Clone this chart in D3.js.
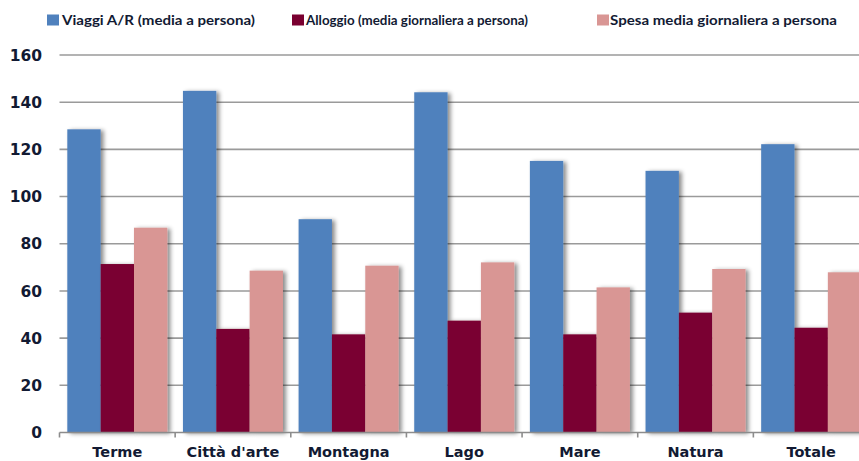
<!DOCTYPE html>
<html>
<head>
<meta charset="utf-8">
<script src="https://cdn.jsdelivr.net/npm/d3@7"></script>
<style>
  html, body { margin: 0; padding: 0; background: #fff; }
  svg { display: block; }
</style>
</head>
<body>
<div id="chart"></div>
<script>
// Spesa media per tipologia di vacanza (euro)
const categories = ["Terme", "Città d'arte", "Montagna", "Lago", "Mare", "Natura", "Totale"];
const seriesNames = [
  "Viaggi A/R (media a persona)",
  "Alloggio (media giornaliera a persona)",
  "Spesa media giornaliera a persona"
];
const viaggi   = [128.5, 144.8, 90.4, 144.2, 115.1, 110.9, 122.2];
const alloggio = [71.4, 43.9, 41.6, 47.4, 41.6, 50.8, 44.4];
const spesa    = [86.8, 68.6, 70.7, 72.1, 61.5, 69.3, 67.9];
const yTicks   = [0, 20, 40, 60, 80, 100, 120, 140, 160];

const colors = ["#4F81BD", "#7A0030", "#D99694"];
const series = [viaggi, alloggio, spesa];

const W = 859, H = 461;
const margin = { left: 59.5, right: -10, top: 55, bottom: 28.5 };
const textColor = "#121a33";
const axisFont = "'DejaVu Sans', Verdana, sans-serif";

const svg = d3.select("#chart").append("svg")
  .attr("width", W).attr("height", H)
  .style("font-family", "Lato, 'Open Sans', sans-serif");

// soft drop shadow to the lower right of each bar
const defs = svg.append("defs");
const f = defs.append("filter").attr("id", "shadow")
  .attr("x", "-20%").attr("y", "-5%").attr("width", "150%").attr("height", "110%");
f.append("feDropShadow")
  .attr("dx", 3).attr("dy", 1).attr("stdDeviation", 2)
  .attr("flood-color", "#000").attr("flood-opacity", 0.45);

const x0 = d3.scaleBand()
  .domain(categories)
  .range([margin.left, W - margin.right])
  .paddingInner(0.135).paddingOuter(0.0675);

const x1 = d3.scaleBand()
  .domain(d3.range(series.length))
  .range([0, x0.bandwidth()]);

const y = d3.scaleLinear()
  .domain([0, 160])
  .range([H - margin.bottom, margin.top]);

// horizontal gridlines
svg.append("g")
  .selectAll("line")
  .data(yTicks.filter(d => d > 0))
  .join("line")
  .attr("x1", margin.left).attr("x2", W)
  .attr("y1", d => y(d)).attr("y2", d => y(d))
  .attr("stroke", "#9a9a9a").attr("stroke-width", 1.6);

// y tick labels
svg.append("g")
  .selectAll("text")
  .data(yTicks)
  .join("text")
  .attr("x", 42).attr("y", d => y(d))
  .attr("dy", "0.36em")
  .attr("text-anchor", "end")
  .style("font-family", axisFont)
  .attr("font-size", 15.5).attr("font-weight", 700)
  .attr("fill", textColor)
  .text(d => d);

// bars
const groups = svg.append("g")
  .selectAll("g")
  .data(categories)
  .join("g")
  .attr("transform", d => `translate(${x0(d)},0)`);

groups.selectAll("rect")
  .data((c, i) => series.map((s, k) => ({ k, v: s[i] })))
  .join("rect")
  .attr("x", d => x1(d.k))
  .attr("width", x1.bandwidth())
  .attr("y", d => y(d.v))
  .attr("height", d => y(0) - y(d.v))
  .attr("fill", d => colors[d.k])
  .attr("filter", "url(#shadow)");

// category axis with boundary ticks
const step = x0.step();
const bounds = d3.range(categories.length + 1).map(i => margin.left + i * step);
const base = y(0);
svg.append("line")
  .attr("x1", margin.left).attr("x2", W)
  .attr("y1", base).attr("y2", base)
  .attr("stroke", "#8c8c8c").attr("stroke-width", 1.6);
svg.append("g")
  .selectAll("line")
  .data(bounds)
  .join("line")
  .attr("x1", d => d).attr("x2", d => d)
  .attr("y1", base).attr("y2", base + 5)
  .attr("stroke", "#8c8c8c").attr("stroke-width", 1.6);

svg.append("g")
  .selectAll("text")
  .data(categories)
  .join("text")
  .attr("x", d => x0(d) + x0.bandwidth() / 2)
  .attr("y", H - 4.5)
  .attr("text-anchor", "middle")
  .style("font-family", axisFont)
  .attr("font-size", 14.5).attr("font-weight", 700)
  .attr("fill", textColor)
  .text(d => d);

// legend
const legendItems = [
  { x: 47, tx: 62, w: 193 },
  { x: 292, tx: 306, w: 222 },
  { x: 597, tx: 610, w: 227 }
];
const lg = svg.append("g");
seriesNames.forEach((name, i) => {
  const it = legendItems[i];
  lg.append("rect")
    .attr("x", it.x).attr("y", 14.5).attr("width", 12).attr("height", 11)
    .attr("fill", colors[i]);
  lg.append("text")
    .attr("x", it.tx).attr("y", 24.5)
    .attr("font-size", 13).attr("font-weight", 700)
    .attr("fill", textColor)
    .attr("textLength", it.w).attr("lengthAdjust", "spacingAndGlyphs")
    .text(name);
});
</script>
</body>
</html>
